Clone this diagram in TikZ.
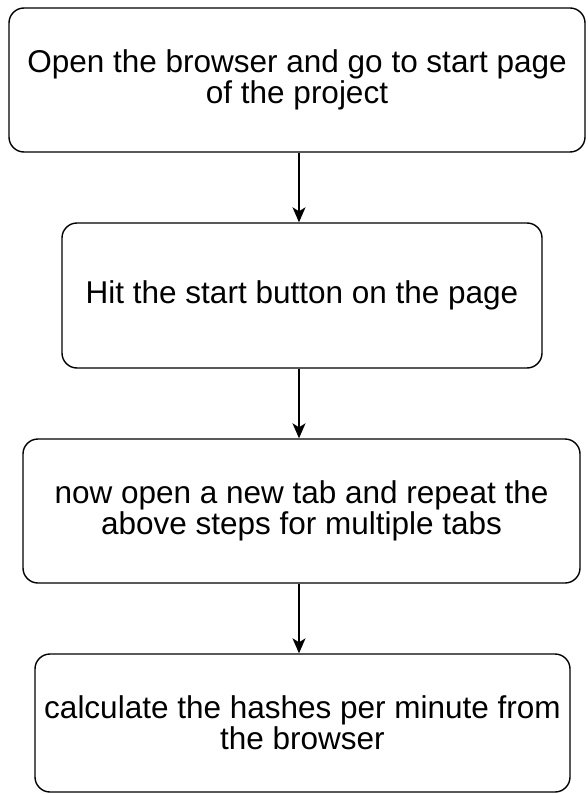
\documentclass[tikz,border=0pt]{standalone}
\usepackage{fontspec}
\setmainfont{Liberation Sans}
\usetikzlibrary{arrows.meta}
\begin{document}
\begin{tikzpicture}[
  stepbox/.style={draw=black, line width=1.4pt, rounded corners=15pt, fill=white,
    align=center, inner sep=0pt, font=\fontsize{31.5}{31}\selectfont},
  conn/.style={line width=1.4pt, -{Stealth[length=15pt,width=13pt,inset=4pt]}}
]
\useasboundingbox (0,0) rectangle (588pt,-794pt);
\coordinate (ax) at (299pt,0);
\node[stepbox, minimum width=576pt, minimum height=144pt] (b1) at (297pt,-80pt)
  {Open the browser and go to start page\\of the project};
\node[stepbox, minimum width=480pt, minimum height=145pt] (b2) at (302pt,-295.5pt)
  {Hit the start button on the page};
\node[stepbox, minimum width=557pt, minimum height=144pt] (b3) at (301.5pt,-511pt)
  {now open a new tab and repeat the\\above steps for multiple tabs};
\node[stepbox, minimum width=535pt, minimum height=138pt] (b4) at (302.5pt,-723pt)
  {calculate the hashes per minute from\\the browser};
\draw[conn] (b1.south -| ax) -- (b2.north -| ax);
\draw[conn] (b2.south -| ax) -- (b3.north -| ax);
\draw[conn] (b3.south -| ax) -- (b4.north -| ax);
\end{tikzpicture}
\end{document}
